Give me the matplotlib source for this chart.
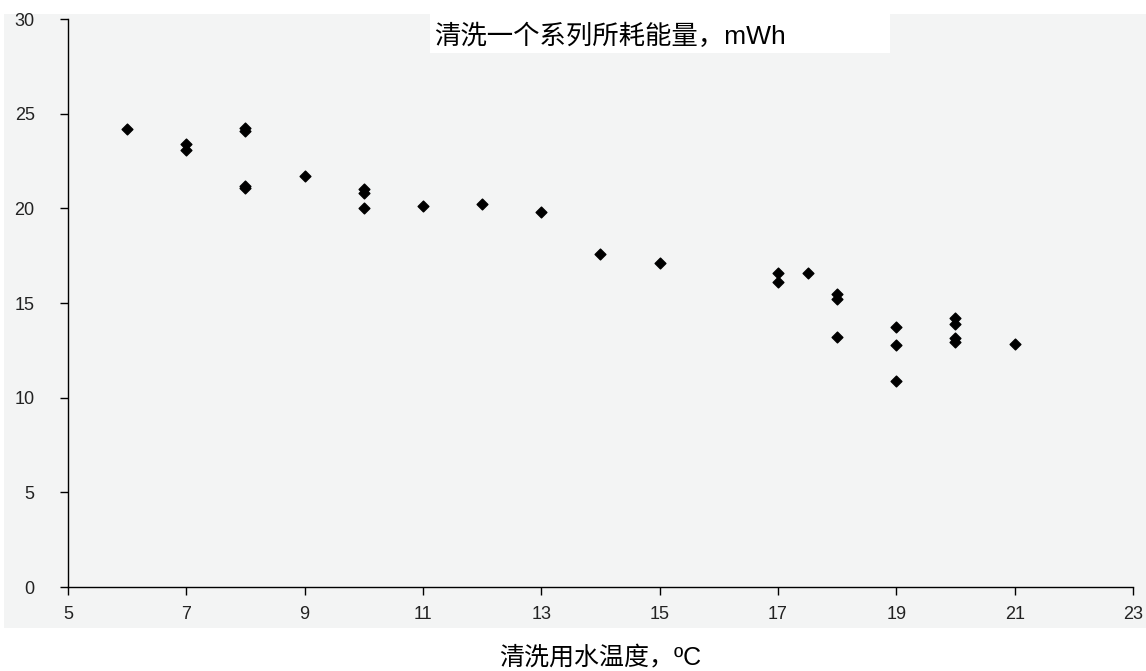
import matplotlib.pyplot as plt
from matplotlib.patches import Rectangle

plt.rcParams['font.family'] = ['Liberation Sans', 'Noto Sans CJK SC', 'DejaVu Sans']

# 清洗用水温度 / 能耗
temp = [6, 7, 7, 8, 8, 8, 8, 9, 10, 10, 10, 11, 12, 13, 14, 15,
        17, 17, 17.5, 18, 18, 18, 19, 19, 19, 20, 20, 20, 20, 21]
energy = [24.2, 23.4, 23.1, 24.25, 24.1, 21.2, 21.1, 21.7, 21.0, 20.8, 20.0, 20.1, 20.25, 19.8, 17.6, 17.1,
          16.6, 16.1, 16.6, 15.5, 15.2, 13.2, 13.75, 12.8, 10.9, 14.2, 13.9, 13.15, 12.95, 12.85]

xticks = [5, 7, 9, 11, 13, 15, 17, 19, 21, 23]
yticks = [0, 5, 10, 15, 20, 25, 30]

fig = plt.figure(figsize=(11.46, 6.71), dpi=100)
W, H = 1146, 671
# light grey chart area
fig.patches.append(Rectangle((4 / W, 1 - 628 / H), 1142 / W, 614 / H,
                             transform=fig.transFigure, facecolor='#f3f4f4',
                             edgecolor='none', zorder=-2))
# white title box
fig.patches.append(Rectangle((430 / W, 1 - 53 / H), 460 / W, 39 / H,
                             transform=fig.transFigure, facecolor='white',
                             edgecolor='none', zorder=-1))

ax = fig.add_axes([68 / W, 1 - 587 / H, 1065 / W, 568 / H])
ax.set_facecolor('none')
ax.scatter(temp, energy, marker='D', s=30, color='black', zorder=3, clip_on=False)

ax.set_xlim(5, 23)
ax.set_ylim(0, 30)
ax.set_xticks(xticks)
ax.set_yticks(yticks)
for s in ['top', 'right']:
    ax.spines[s].set_visible(False)
for s in ['left', 'bottom']:
    ax.spines[s].set_color('black')
    ax.spines[s].set_linewidth(1)
ax.tick_params(axis='both', direction='out', length=6, width=1, color='black',
               labelsize=13, labelcolor='#222222')
ax.tick_params(axis='x', pad=8)
ax.tick_params(axis='y', pad=18)

fig.text(434 / W, 1 - 36 / H, '清洗一个系列所耗能量，mWh', fontsize=19,
         family=['Liberation Sans', 'Noto Sans CJK SC'], va='center', ha='left', zorder=2)
fig.text(600 / W, 1 - 657 / H, '清洗用水温度，ºC', fontsize=18,
         family=['Liberation Sans', 'Noto Sans CJK SC'], va='center', ha='center')

plt.savefig('out.png', dpi=100)
